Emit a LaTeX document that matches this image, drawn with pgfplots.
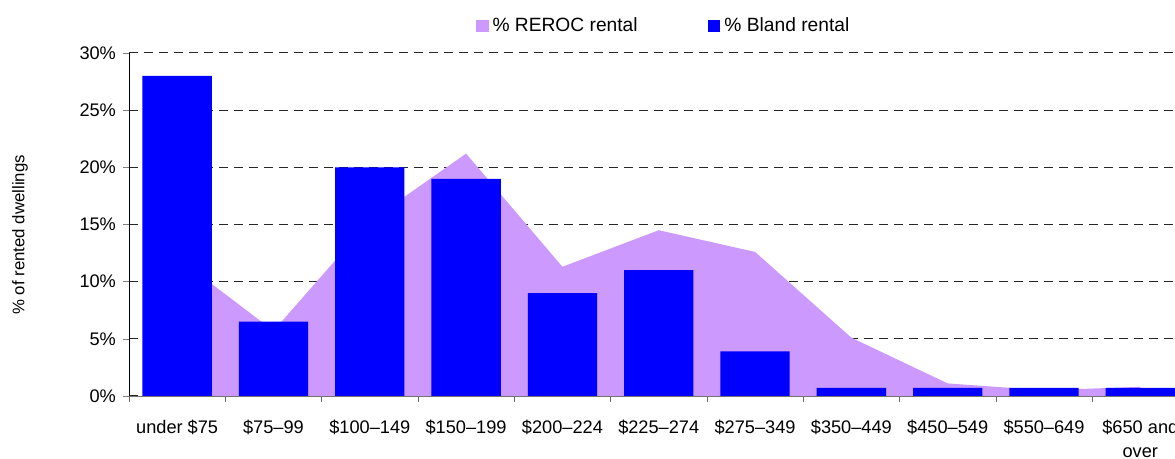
\documentclass[border=0pt]{standalone}
\usepackage{fontspec}
\setmainfont{Liberation Sans}
\usepackage{pgfplots}
\pgfplotsset{compat=1.18}
\definecolor{reroc}{HTML}{CC99FF}
\definecolor{bland}{HTML}{0000FF}
\pgfplotsset{mylegend/.style={legend image code/.code={\fill[##1,draw=none] (0pt,-3.2pt) rectangle (6.4pt,3.2pt);}}}
\begin{document}
\begin{tikzpicture}
\begin{axis}[
  name=ax,
  width=523pt, height=171.5pt, scale only axis,
  xmin=-0.5, xmax=10.36, ymin=0, ymax=30,
  axis x line*=bottom, axis y line*=left,
  x axis line style={draw=black!55},
  y axis line style={draw=black},
  xtick={0,...,10},
  xticklabels={under \$75,\$75--99,\$100--149,\$150--199,\$200--224,\$225--274,\$275--349,\$350--449,\$450--549,\$550--649,{\$650 and\\over}},
  minor xtick={-0.5,0.5,...,9.5},
  major x tick style={draw=none},
  minor x tick style={draw=black!60},
  minor tick length=3pt,
  major tick length=3pt,
  tick align=outside,
  ytick={0,5,...,30},
  yticklabel={\pgfmathprintnumber{\tick}\%},
  /pgf/number format/assume math mode=true,
  ymajorgrids,
  grid style={draw=black!85, line width=0.5pt, dash pattern=on 4.5pt off 3pt},
  tick label style={font=\fontsize{9.1}{12}\selectfont},
  xticklabel style={align=center, yshift=-5.5pt},
  ylabel={\% of rented dwellings},
  ylabel style={font=\fontsize{8.4}{10}\selectfont, at={(axis description cs:-0.1042,0.47)}, anchor=center},
  legend style={at={(0.512,1.0787)}, anchor=center, draw=none, fill=none,
    font=\fontsize{9.6}{11}\selectfont,
    /tikz/every even column/.append style={column sep=33pt}},
  legend columns=2,
]
\addplot[fill=reroc, draw=none, mylegend] coordinates {
  (0,12.1) (1,5.7) (2,15.3) (3,21.2) (4,11.3) (5,14.5) (6,12.6) (7,5.1) (8,1.1) (9,0.5) (10,0.8)
} \closedcycle;
\addlegendentry{\% REROC rental}
\addplot[ybar, bar width=0.72, fill=bland, draw=none, mylegend] coordinates {
  (0,28) (1,6.5) (2,20) (3,19) (4,9) (5,11) (6,3.9) (7,0.7) (8,0.7) (9,0.7) (10,0.7)
};
\addlegendentry{\% Bland rental}
\coordinate (BL) at (rel axis cs:0,0);
\coordinate (TR) at (rel axis cs:1,1);
\end{axis}
\pgfresetboundingbox
\path[use as bounding box] ([shift={(-64.5pt,-31.5pt)}]BL) rectangle ([shift={(0pt,26.5pt)}]TR);
\end{tikzpicture}
\end{document}
